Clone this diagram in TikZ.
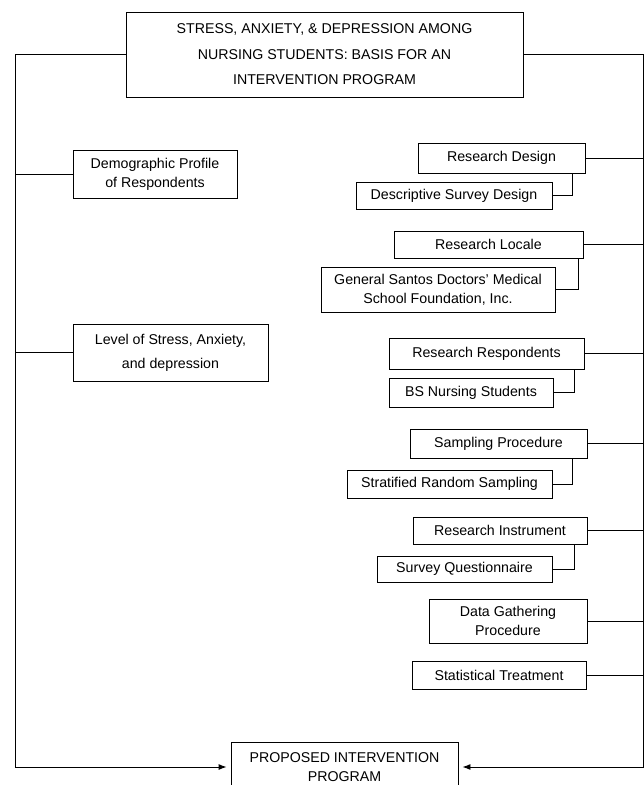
\documentclass[tikz,border=0pt]{standalone}
\usepackage{fontspec}
\setmainfont{Liberation Sans}
\usetikzlibrary{arrows.meta}

\begin{document}
\begin{tikzpicture}[
    x=1pt, y=-1pt,
    box/.style={rectangle, draw, line width=0.9pt, align=center, inner sep=0pt,
                font=\fontsize{14.2}{19}\selectfont},
    link/.style={line width=0.9pt},
    arrow/.style={-{Latex[length=8pt,width=6pt]}, line width=0.9pt, shorten >=4pt}
]
\useasboundingbox (0,0) rectangle (644,785);
\clip (0,0) rectangle (644,785);

% Title
\node[box, minimum width=397, minimum height=85] at (324.5,54.5) (title)
    {STRESS, ANXIETY, \& DEPRESSION AMONG\\[6.5pt] NURSING STUDENTS: BASIS FOR AN\\[6.5pt] INTERVENTION PROGRAM};

% Left side
\node[box, minimum width=164, minimum height=48] at (155,174) (demo) {Demographic Profile\\of Respondents};
\node[box, minimum width=195, minimum height=57] at (170.5,352.5) (level) {Level of Stress, Anxiety,\\[5pt] and depression};

% Right side
\node[box, minimum width=167, minimum height=30] at (501.5,158) (design) {Research Design};
\node[box, minimum width=196, minimum height=27] at (454,195.5) (designsub) {Descriptive Survey Design};
\node[box, minimum width=189, minimum height=27] at (488.5,244.5) (locale) {Research Locale};
\node[box, minimum width=234, minimum height=45] at (438,289.5) (localesub) {General Santos Doctors' Medical\\School Foundation, Inc.};
\node[box, minimum width=195, minimum height=31] at (486.5,353.5) (resp) {Research Respondents};
\node[box, minimum width=164, minimum height=29] at (471,392.5) (respsub) {BS Nursing Students};
\node[box, minimum width=177, minimum height=29] at (498.5,443.5) (sampling) {Sampling Procedure};
\node[box, minimum width=205, minimum height=28] at (449.5,484) (samplingsub) {Stratified Random Sampling};
\node[box, minimum width=174, minimum height=27] at (500,530.5) (instr) {Research Instrument};
\node[box, minimum width=175, minimum height=26] at (464.5,569) (instrsub) {Survey Questionnaire};
\node[box, minimum width=158, minimum height=44] at (508,621) (gathering) {Data Gathering\\Procedure};
\node[box, minimum width=174, minimum height=28] at (499,675) (stats) {Statistical Treatment};

% Output (runs off the page)
\node[box, minimum width=227, minimum height=50] at (344.5,767) (proposed) {PROPOSED INTERVENTION\\PROGRAM};

% Trunks
\coordinate (lcorner) at (15,767);
\coordinate (rcorner) at (643,767);
\draw[arrow] (title.west) -| (lcorner) -- (proposed.west);
\draw[arrow] (title.east) -| (rcorner) -- (proposed.east);

% Branches
\foreach \n in {demo, level}
    \draw[link] (\n.west) -- (\n.west -| lcorner);
\foreach \n in {design, locale, resp, sampling, instr, gathering, stats}
    \draw[link] (\n.east) -- (\n.east -| rcorner);
\foreach \a/\b/\s in {design/designsub/13, locale/localesub/5, resp/respsub/10,
                      sampling/samplingsub/15, instr/instrsub/13}
    \draw[link] ([xshift=-\s pt]\a.south east) |- (\b.east);

\end{tikzpicture}
\end{document}
